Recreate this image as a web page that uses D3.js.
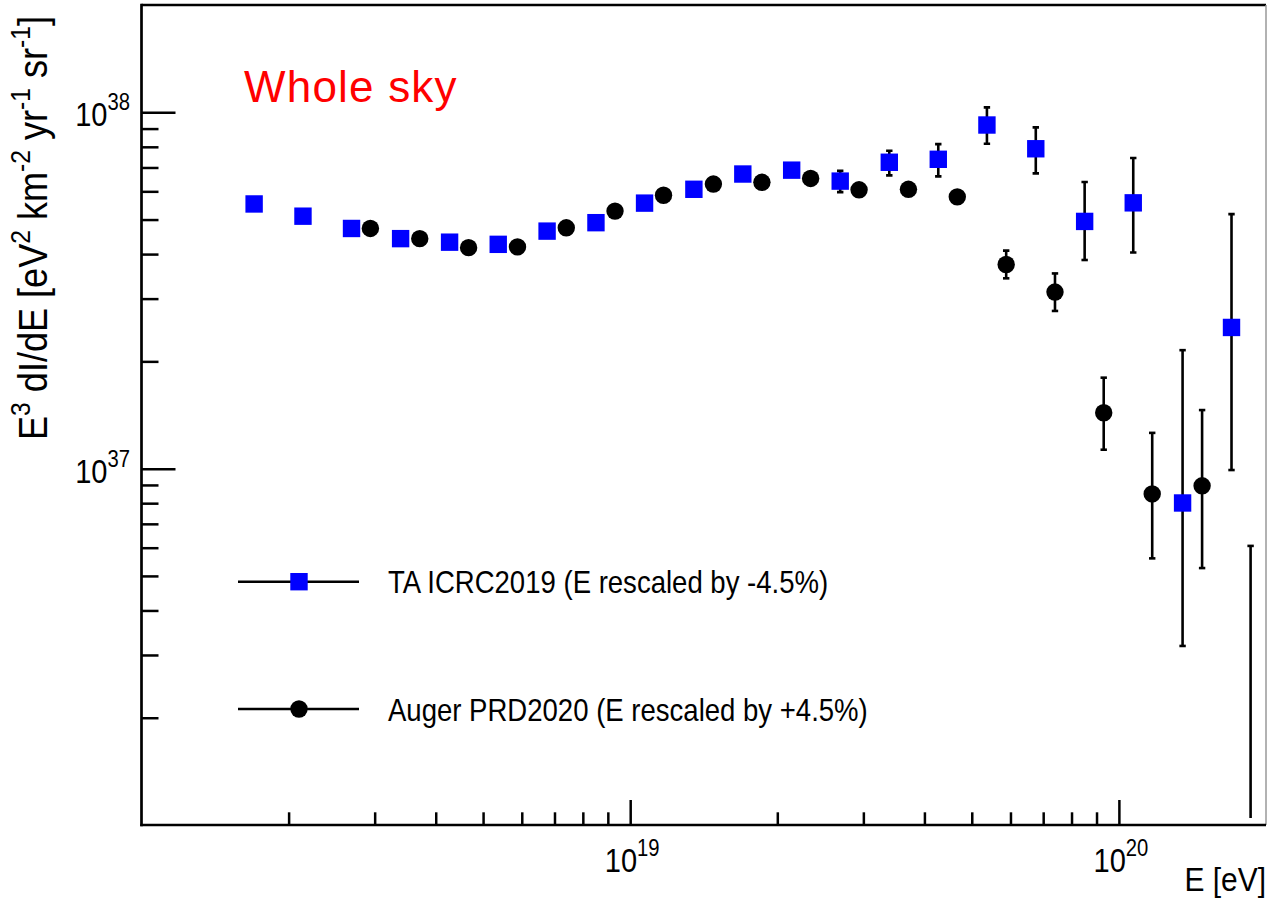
<!DOCTYPE html>
<html>
<head>
<meta charset="utf-8">
<script src="https://cdn.jsdelivr.net/npm/d3@7"></script>
<style>
  html, body { margin: 0; padding: 0; background: #fff; }
  svg { display: block; }
  text { font-family: "Liberation Sans", Arial, Helvetica, sans-serif; fill: #000; }
</style>
</head>
<body>
<svg id="chart" width="1267" height="901"></svg>
<script>
// ---------------- DATA ----------------
const taLabel = "TA ICRC2019 (E rescaled by -4.5%)";
const augerLabel = "Auger PRD2020 (E rescaled by +4.5%)";
const titleText = "Whole sky";

const taEnergy = [1.70e18, 2.14e18, 2.69e18, 3.39e18, 4.27e18, 5.37e18, 6.76e18, 8.51e18,
                  1.07e19, 1.35e19, 1.70e19, 2.14e19, 2.69e19, 3.39e19, 4.27e19, 5.37e19,
                  6.76e19, 8.51e19, 1.07e20, 1.35e20, 1.70e20];
const taFlux   = [5.53e37, 5.11e37, 4.72e37, 4.42e37, 4.32e37, 4.26e37, 4.64e37, 4.90e37,
                  5.56e37, 6.08e37, 6.71e37, 6.88e37, 6.41e37, 7.24e37, 7.38e37, 9.21e37,
                  7.90e37, 4.94e37, 5.57e37, 8.01e36, 2.49e37];
const taLow    = [null, null, null, null, null, null, null, null, null, null, null, null,
                  5.97e37, 6.65e37, 6.61e37, 8.16e37, 6.74e37, 3.85e37, 4.04e37, 3.18e36, 9.91e36];
const taHigh   = [null, null, null, null, null, null, null, null, null, null, null, null,
                  6.85e37, 7.80e37, 8.14e37, 1.032e38, 9.07e37, 6.37e37, 7.44e37, 2.15e37, 5.18e37];

const augerEnergy = [2.94e18, 3.71e18, 4.67e18, 5.88e18, 7.40e18, 9.31e18, 1.17e19, 1.48e19,
                     1.86e19, 2.34e19, 2.94e19, 3.71e19, 4.67e19, 5.88e19, 7.40e19, 9.31e19,
                     1.17e20, 1.48e20, 1.86e20];
const augerFlux   = [4.72e37, 4.42e37, 4.17e37, 4.19e37, 4.74e37, 5.28e37, 5.85e37, 6.29e37,
                     6.36e37, 6.52e37, 6.06e37, 6.08e37, 5.79e37, 3.74e37, 3.13e37, 1.435e37,
                     8.49e36, 8.95e36, 7.0e35];
const augerLow    = [null, null, null, null, null, null, null, null, null, null, null, null, null,
                     3.42e37, 2.77e37, 1.13e37, 5.60e36, 5.26e36, 1.0e35];
const augerHigh   = [null, null, null, null, null, null, null, null, null, null, null, null, null,
                     4.09e37, 3.53e37, 1.80e37, 1.26e37, 1.46e37, 6.07e36];

const xDomain = [1e18, 2e20];
const yDomain = [1e36, 2e38];
const xMajorTicks = [1e19, 1e20];
const xMajorLabels = [["10", "19"], ["10", "20"]];
const yMajorTicks = [1e37, 1e38];
const yMajorLabels = [["10", "37"], ["10", "38"]];
const xTitle = "E [eV]";
// y title pieces: [text, isSuperscript]
const yTitleParts = [["E", 0], ["3", 1], [" dI/dE [eV", 0], ["2", 1], [" km", 0], ["-2", 1],
                     [" yr", 0], ["-1", 1], [" sr", 0], ["-1", 1], ["]", 0]];

// ---------------- LAYOUT ----------------
const L = 141.5, R = 1266, T = 5, B = 825;
const SX = 0.88; // horizontal condensation of the ROOT-like font

const svg = d3.select("#chart");
const x = d3.scaleLog().domain(xDomain).range([L, R]);
const y = d3.scaleLog().domain(yDomain).range([B, T]);

function minorTicks(domain) {
  const out = [];
  const lo = Math.floor(Math.log10(domain[0])), hi = Math.ceil(Math.log10(domain[1]));
  for (let e = lo; e <= hi; e++) {
    for (let m = 2; m <= 9; m++) {
      const v = m * Math.pow(10, e);
      if (v > domain[0] * 1.0001 && v < domain[1] * 0.9999) out.push(v);
    }
  }
  return out;
}

svg.append("defs").append("clipPath").attr("id", "plotclip")
  .append("rect").attr("x", L).attr("y", T).attr("width", R - L).attr("height", B - T);

// ---------------- AXES (ticks) ----------------
const xAxisMinor = d3.axisBottom(x).tickValues(minorTicks(xDomain)).tickSize(-12.7).tickFormat("");
const xAxisMajor = d3.axisBottom(x).tickValues(xMajorTicks).tickSize(-25).tickFormat("");
const yAxisMinor = d3.axisLeft(y).tickValues(minorTicks(yDomain)).tickSize(-17).tickFormat("");
const yAxisMajor = d3.axisLeft(y).tickValues(yMajorTicks).tickSize(-34).tickFormat("");

function styleAxis(g) {
  g.select(".domain").remove();
  g.selectAll(".tick line").attr("stroke", "#000").attr("stroke-width", 2.5);
}
svg.append("g").attr("transform", `translate(0,${B})`).call(xAxisMinor).call(styleAxis);
svg.append("g").attr("transform", `translate(0,${B})`).call(xAxisMajor).call(styleAxis);
svg.append("g").attr("transform", `translate(${L},0)`).call(yAxisMinor).call(styleAxis);
svg.append("g").attr("transform", `translate(${L},0)`).call(yAxisMajor).call(styleAxis);

// frame
svg.append("line").attr("x1", L).attr("x2", R).attr("y1", T).attr("y2", T)
  .attr("stroke", "#000").attr("stroke-width", 2.5);
svg.append("line").attr("x1", R).attr("x2", R).attr("y1", T).attr("y2", B)
  .attr("stroke", "#999").attr("stroke-width", 1.5);
svg.append("line").attr("x1", L).attr("x2", L).attr("y1", T - 1.25).attr("y2", B + 1.25)
  .attr("stroke", "#000").attr("stroke-width", 2.7);
svg.append("line").attr("x1", L - 1.25).attr("x2", R).attr("y1", B).attr("y2", B)
  .attr("stroke", "#000").attr("stroke-width", 2.7);

// tick labels
function supLabel(parent, tx, ty, parts, anchor, size, supSize, supDy) {
  const g = parent.append("g").attr("transform", `translate(${tx},${ty}) scale(${SX},1)`);
  const t = g.append("text").attr("text-anchor", anchor).attr("font-size", size);
  t.append("tspan").text(parts[0]);
  t.append("tspan").attr("font-size", supSize).attr("dy", supDy).text(parts[1]);
  return t;
}
xMajorTicks.forEach((v, i) => supLabel(svg, x(v) + 2, 872, xMajorLabels[i], "middle", 33, 23, -16));
yMajorTicks.forEach((v, i) => supLabel(svg, 130, y(v) + 14, yMajorLabels[i], "end", 33, 23, -16));

// axis titles
svg.append("g").attr("transform", `translate(1266,891) scale(${SX},1)`)
  .append("text").attr("text-anchor", "end").attr("font-size", 34).text(xTitle);

const yt = svg.append("g").attr("transform", `translate(47,228) rotate(-90) scale(${SX},1)`)
  .append("text").attr("text-anchor", "middle").attr("font-size", 41);
let prevSup = 0;
yTitleParts.forEach(([s, sup]) => {
  const ts = yt.append("tspan").text(s).attr("font-size", sup ? 28 : 41);
  if (sup && !prevSup) ts.attr("dy", -17);
  if (!sup && prevSup) ts.attr("dy", 17);
  prevSup = sup;
});

// title
svg.append("text").attr("x", 244).attr("y", 102)
  .attr("font-family", "'Open Sans', 'Liberation Sans', sans-serif")
  .attr("font-size", 44).attr("letter-spacing", 1.2)
  .style("fill", "#ff0000").text(titleText);

// ---------------- DATA MARKS ----------------
const taData = taEnergy.map((e, i) => ({e, f: taFlux[i], lo: taLow[i], hi: taHigh[i]}));
const augerData = augerEnergy.map((e, i) => ({e, f: augerFlux[i], lo: augerLow[i], hi: augerHigh[i]}));

const plot = svg.append("g").attr("clip-path", "url(#plotclip)");
const CAP = 3.2;
function errorBars(data) {
  const g = plot.append("g").attr("stroke", "#000").attr("stroke-width", 2.6).attr("fill", "none");
  data.filter(d => d.lo !== null).forEach(d => {
    const cx = x(d.e);
    const yTop = Math.max(y(d.hi), T);
    const yBotRaw = y(d.lo);
    const yBot = Math.min(yBotRaw, B - 7);
    g.append("line").attr("x1", cx).attr("x2", cx).attr("y1", yTop).attr("y2", yBot);
    g.append("line").attr("x1", cx - CAP).attr("x2", cx + CAP).attr("y1", yTop).attr("y2", yTop);
    if (yBotRaw <= B - 7) g.append("line").attr("x1", cx - CAP).attr("x2", cx + CAP).attr("y1", yBot).attr("y2", yBot);
  });
}
errorBars(taData);
errorBars(augerData);

const SQ = 17.4, RAD = 8.7;
plot.append("g").selectAll("rect").data(taData).join("rect")
  .attr("x", d => x(d.e) - SQ / 2).attr("y", d => y(d.f) - SQ / 2)
  .attr("width", SQ).attr("height", SQ).attr("fill", "#0000ff");
plot.append("g").selectAll("circle").data(augerData).join("circle")
  .attr("cx", d => x(d.e)).attr("cy", d => y(d.f)).attr("r", RAD).attr("fill", "#000");

// ---------------- LEGEND ----------------
const legend = [
  {label: taLabel, y: 581.7, type: "square"},
  {label: augerLabel, y: 709, type: "circle"}
];
legend.forEach(item => {
  const g = svg.append("g");
  g.append("line").attr("x1", 238).attr("x2", 359).attr("y1", item.y).attr("y2", item.y)
    .attr("stroke", "#000").attr("stroke-width", 2.6);
  if (item.type === "square") {
    g.append("rect").attr("x", 299 - SQ / 2).attr("y", item.y - SQ / 2)
      .attr("width", SQ).attr("height", SQ).attr("fill", "#0000ff");
  } else {
    g.append("circle").attr("cx", 299).attr("cy", item.y).attr("r", RAD).attr("fill", "#000");
  }
  g.append("g").attr("transform", `translate(388,${item.y + 11.5}) scale(${SX},1)`)
    .append("text").attr("font-size", 31.3).text(item.label);
});
</script>
</body>
</html>
